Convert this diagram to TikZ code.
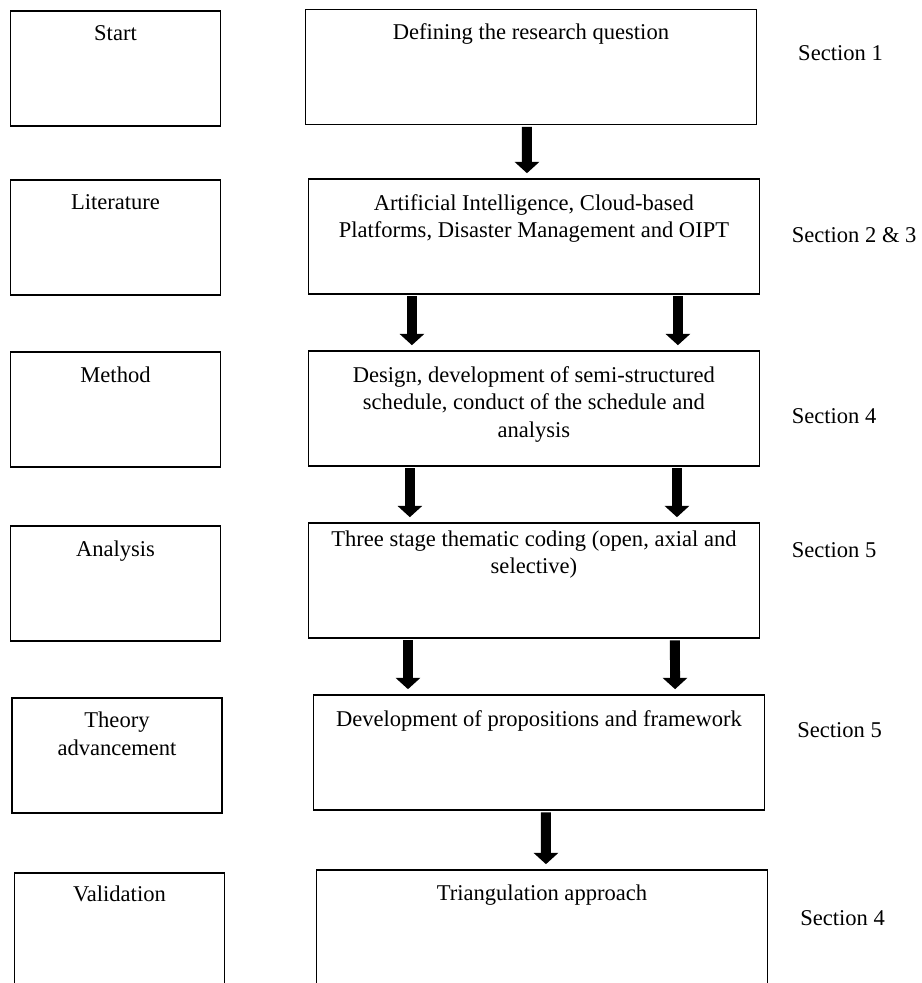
\documentclass[tikz,border=0pt]{standalone}
\usepackage{fontspec}
\setmainfont{Liberation Serif}
\usepackage{tikz}
\usetikzlibrary{arrows.meta}
\tikzstyle{stage} = [rectangle, draw=black, line width=0.8pt, minimum width=111.7pt, minimum height=61.2pt]
\tikzstyle{wide} = [stage, minimum width=240pt]
\tikzstyle{boxtext} = [anchor=north, align=center, inner sep=0pt, font=\fontsize{12pt}{14.6pt}\selectfont]
\tikzstyle{seclabel} = [inner sep=0pt, font=\fontsize{12pt}{14.6pt}\selectfont]
\tikzstyle{arrow} = [line width=5.3pt, -{Triangle[width=12.8pt,length=6pt]}, shorten >=2.7pt, shorten <=0.8pt]

\begin{document}
\begin{tikzpicture}[x=0.532pt, y=-0.532pt, node distance=91.5pt]
\useasboundingbox (0,0) rectangle (921,983);

% left column
\node (start) [stage] at (115.5,68.5) {};
\node (lit) [stage, below of=start, yshift=1.6pt] {};
\node (method) [stage, below of=lit] {};
\node (anal) [stage, below of=method, yshift=-1.1pt] {};
\node (theory) [stage, below of=anal, xshift=0.8pt] {};
\node (valid) [stage, below of=theory, xshift=1.3pt, yshift=-1.6pt] {};

% middle column
\node (def) [wide, right of=start, xshift=129.5pt, yshift=0.8pt] {};
\node (art) [wide, below of=def, xshift=1.6pt, yshift=1.3pt] {};
\node (meth) [wide, below of=art] {};
\node (three) [wide, below of=meth] {};
\node (dev) [wide, below of=three, xshift=2.7pt] {};
\node (tri) [wide, below of=dev, xshift=1.6pt, yshift=-1.6pt] {};

% texts
\node (startT) [boxtext] at ([yshift=-8pt]start.north) {Start};
\node (litT) [boxtext] at ([yshift=-8pt]lit.north) {Literature};
\node (methodT) [boxtext] at ([yshift=-8pt]method.north) {Method};
\node (analT) [boxtext] at ([yshift=-8pt]anal.north) {Analysis};
\node (theoryT) [boxtext, font=\fontsize{12pt}{15pt}\selectfont] at ([yshift=-7.5pt]theory.north) {Theory\\advancement};
\node (validT) [boxtext] at ([yshift=-7pt]valid.north) {Validation};

\node (defT) [boxtext] at ([yshift=-7.5pt]def.north) {Defining the research question};
\node (artT) [boxtext] at ([yshift=-8.5pt]art.north) {Artificial Intelligence, Cloud-based\\Platforms, Disaster Management and OIPT};
\node (methT) [boxtext] at ([yshift=-8.5pt]meth.north) {Design, development of semi-structured\\schedule, conduct of the schedule and\\analysis};
\node (threeT) [boxtext] at ([yshift=-4.3pt]three.north) {Three stage thematic coding (open, axial and\\selective)};
\node (devT) [boxtext] at ([yshift=-8.5pt]dev.north) {Development of propositions and framework};
\node (triT) [boxtext] at ([yshift=-8pt]tri.north) {Triangulation approach};

% sections
\node (sec1) [seclabel, right of=def, anchor=west, xshift=50.5pt, yshift=7.4pt] {Section 1};
\node (sec23) [seclabel, right of=art, anchor=west, xshift=45.5pt, yshift=0.8pt] {Section 2 \& 3};
\node (sec4a) [seclabel, right of=meth, anchor=west, xshift=45.5pt, yshift=-4pt] {Section 4};
\node (sec5a) [seclabel, right of=three, anchor=west, xshift=45.5pt, yshift=16.2pt] {Section 5};
\node (sec5b) [seclabel, right of=dev, anchor=west, xshift=45.7pt, yshift=11.7pt] {Section 5};
\node (sec4b) [seclabel, right of=tri, anchor=west, xshift=45.7pt, yshift=5pt] {Section 4};

% arrows
\draw [arrow] ([xshift=-2.1pt]def.south) -- ([xshift=-3.7pt]art.north);
\draw [arrow] ([xshift=-64.9pt]art.south) -- ([xshift=-64.9pt]meth.north);
\draw [arrow] ([xshift=76.6pt]art.south) -- ([xshift=76.6pt]meth.north);
\draw [arrow] ([xshift=-66pt]meth.south) -- ([xshift=-66pt]three.north);
\draw [arrow] ([xshift=76.1pt]meth.south) -- ([xshift=76.1pt]three.north);
\draw [arrow] ([xshift=-67pt]three.south) -- ([xshift=-69.7pt]dev.north);
\draw [arrow] ([xshift=75pt]three.south) -- ([xshift=72.4pt]dev.north);
\draw [arrow] ([xshift=3.7pt]dev.south) -- ([xshift=2.1pt]tri.north);

\end{tikzpicture}
\end{document}
